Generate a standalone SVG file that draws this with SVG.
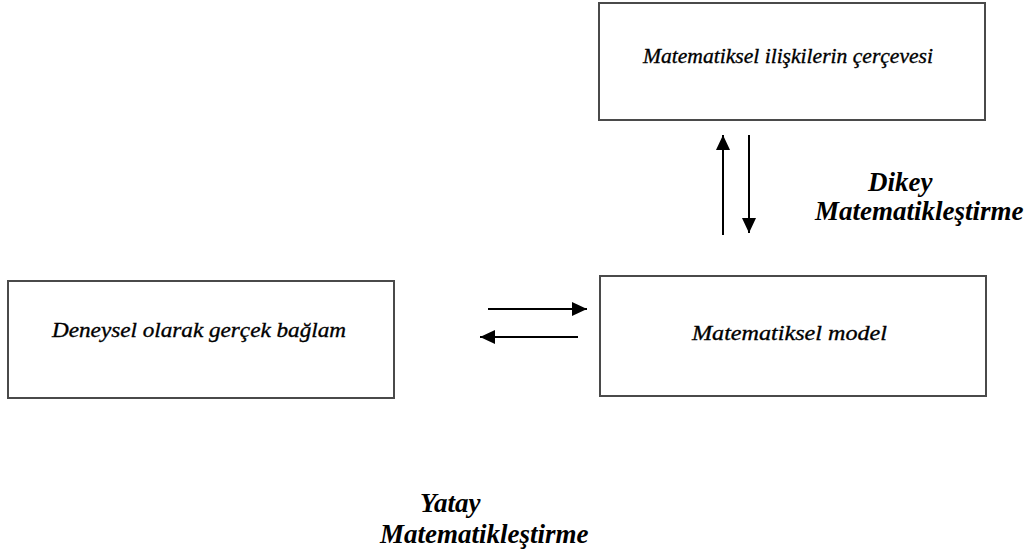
<svg xmlns="http://www.w3.org/2000/svg" width="1029" height="558" viewBox="0 0 1029 558">
<style>
.box{fill:#fff;stroke:#4a4a4a;stroke-width:2}
.bt{font-family:"Liberation Serif","Times New Roman",serif;font-style:italic;font-size:22px;fill:#000;stroke:#000;stroke-width:0.35}
.lb{font-family:"Liberation Serif","Times New Roman",serif;font-style:italic;font-weight:bold;font-size:27px;fill:#000}
.ar{stroke:#000;stroke-width:2;fill:none}
</style>
<defs>
<marker id="ah" markerUnits="userSpaceOnUse" markerWidth="15" markerHeight="14" refX="15" refY="7" orient="auto">
<path d="M0,0 L15,7 L0,14 z" fill="#000"/>
</marker>
</defs>
<rect width="1029" height="558" fill="#fff"/>
<g id="node-top">
<rect class="box" x="599" y="3" width="386" height="117"/>
<text class="bt" x="643" y="63" textLength="290" lengthAdjust="spacingAndGlyphs">Matematiksel ilişkilerin çerçevesi</text>
</g>
<g id="node-left">
<rect class="box" x="8" y="281" width="386" height="117"/>
<text class="bt" x="52" y="337" textLength="294" lengthAdjust="spacingAndGlyphs">Deneysel olarak gerçek bağlam</text>
</g>
<g id="node-middle">
<rect class="box" x="600" y="276" width="386" height="120"/>
<text class="bt" x="692" y="340" textLength="195" lengthAdjust="spacingAndGlyphs">Matematiksel model</text>
</g>
<g id="connectors">
<line class="ar" x1="723" y1="235" x2="723" y2="135" marker-end="url(#ah)"/>
<line class="ar" x1="749" y1="135" x2="749" y2="233" marker-end="url(#ah)"/>
<line class="ar" x1="488" y1="309" x2="587" y2="309" marker-end="url(#ah)"/>
<line class="ar" x1="578" y1="337" x2="480" y2="337" marker-end="url(#ah)"/>
</g>
<g id="label-dikey">
<text class="lb" x="868" y="191">Dikey</text>
<text class="lb" x="815" y="220">Matematikleştirme</text>
</g>
<g id="label-yatay">
<text class="lb" x="420" y="512">Yatay</text>
<text class="lb" x="380" y="543">Matematikleştirme</text>
</g>
</svg>
